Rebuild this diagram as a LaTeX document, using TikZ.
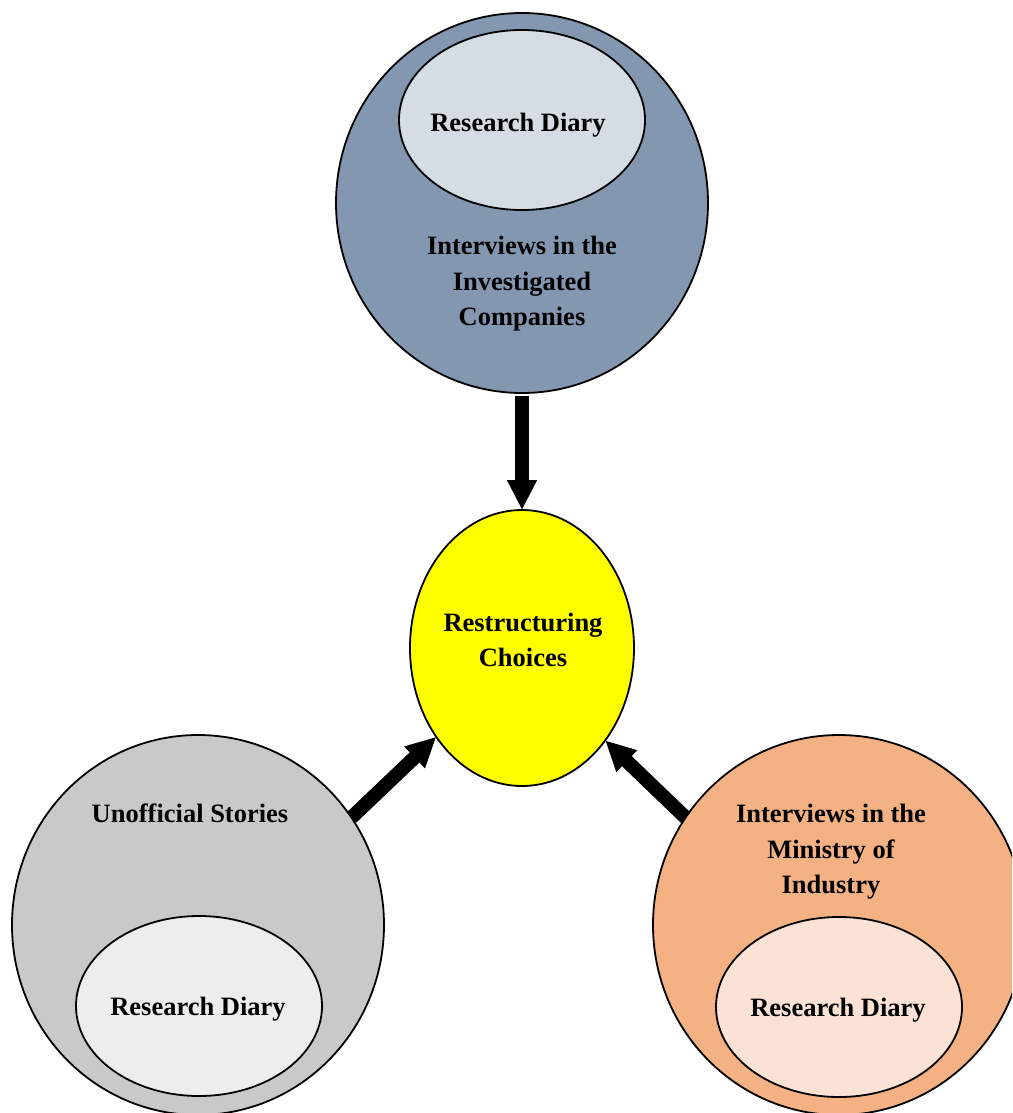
\documentclass[tikz,border=0pt]{standalone}
\usepackage{fontspec}
\setmainfont{Liberation Serif}
\usetikzlibrary{shapes.geometric,arrows.meta}
\definecolor{slate}{HTML}{8497B0}
\definecolor{slatelight}{HTML}{D6DCE4}
\definecolor{greybig}{HTML}{C9C9C9}
\definecolor{greylight}{HTML}{EDEDED}
\definecolor{peach}{HTML}{F4B183}
\definecolor{peachlight}{HTML}{FBE2D5}
\definecolor{yel}{HTML}{FFFF00}
\tikzset{
  blob/.style={ellipse, draw=black, line width=1.8pt, inner sep=0pt, outer sep=0pt},
  big/.style={blob, minimum width=372pt, minimum height=380pt},
  small/.style={blob, minimum width=246pt, minimum height=180pt},
  lbl/.style={font=\fontsize{26.5}{35.5}\selectfont\bfseries, align=center, inner sep=0pt},
  arr/.style={line width=14pt, -{Triangle[width=28pt,length=30pt]}},
}
\begin{document}
\begin{tikzpicture}[x=1pt,y=-1pt]
\useasboundingbox (0,0) rectangle (1012,1113);
\clip (0,0) rectangle (1012,1113);
% top group
\node[big, fill=slate] (top) at (522,203) {};
\node[small, fill=slatelight] (topin) at (522,120) {};
\node[lbl] (toptxt) at (518,125) {Research Diary};
\node[lbl] (toplbl) at (522,284) {Interviews in the\\Investigated\\Companies};
% centre
\node[blob, fill=yel, minimum width=224pt, minimum height=276pt] (ctr) at (522,648) {};
\node[lbl] (ctrlbl) at (523,640) {Restructuring\\Choices};
% bottom left
\node[big, fill=greybig] (bl) at (198,925) {};
\node[small, fill=greylight] (blin) at (199,1006) {};
\node[lbl] (bltxt) at (198,1009) {Research Diary};
\node[lbl] (bllbl) at (190,813) {Unofficial Stories};
% bottom right
\node[big, fill=peach] (br) at (839,925) {};
\node[small, fill=peachlight] (brin) at (839,1007) {};
\node[lbl] (brtxt) at (838,1010) {Research Diary};
\node[lbl] (brlbl) at (831,852) {Interviews in the\\Ministry of\\Industry};
% arrows
\draw[arr, shorten <=3pt] (top.south) -- (ctr.north);
\draw[arr] (bl.35) -- (ctr.226);
\draw[arr] (br.145) -- (ctr.312);
\end{tikzpicture}
\end{document}
